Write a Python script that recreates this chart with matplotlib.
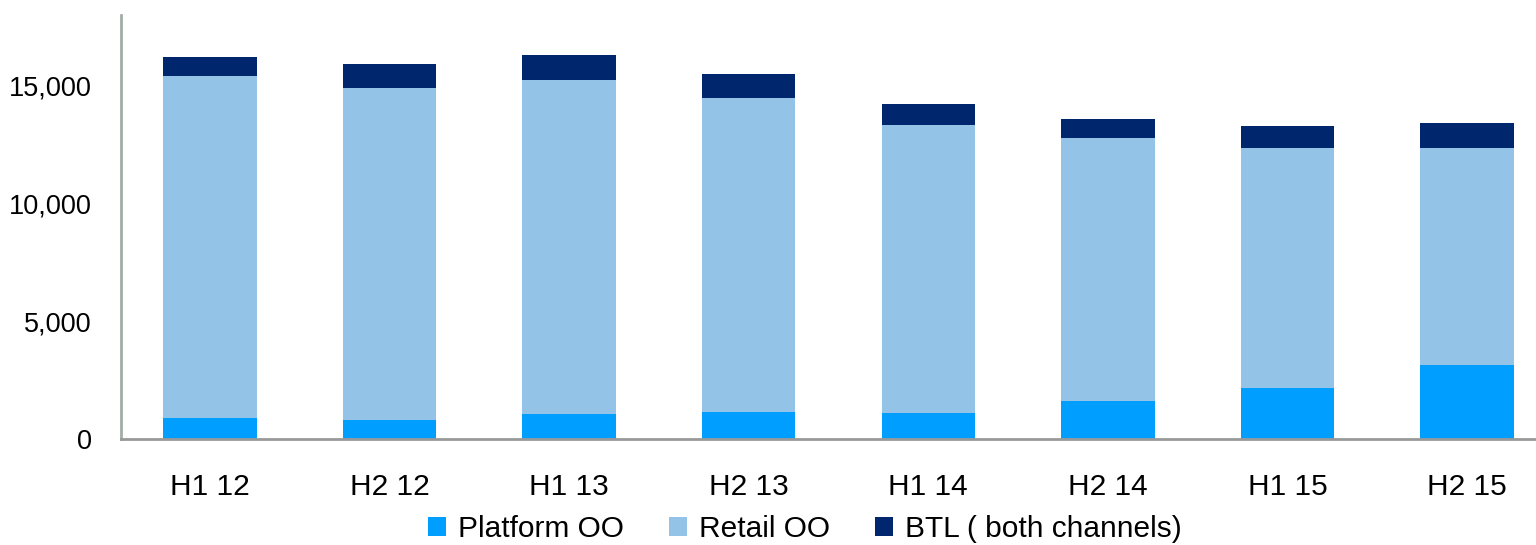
import numpy as np
import matplotlib.pyplot as plt

periods = ["H1 12", "H2 12", "H1 13", "H2 13", "H1 14", "H2 14", "H1 15", "H2 15"]
platform_oo = [890, 780, 1060, 1150, 1090, 1610, 2140, 3140]
retail_oo = [14510, 14115, 14175, 13320, 12250, 11160, 10235, 9220]
btl = [840, 1020, 1090, 1050, 890, 820, 925, 1050]

plt.rcParams['font.family'] = ['Liberation Sans', 'DejaVu Sans']

fig = plt.figure(figsize=(15.36, 5.45), dpi=100)
ax = fig.add_axes([0.0788, 0.195, 0.9212, 0.777])

x = np.arange(len(periods))
w = 0.52
p = np.array(platform_oo)
r = np.array(retail_oo)
b = np.array(btl)

ax.bar(x, p, w, color="#009FFF", label="Platform OO")
ax.bar(x, r, w, bottom=p, color="#93C4E8", label="Retail OO")
ax.bar(x, b, w, bottom=p + r, color="#00266E", label="BTL ( both channels)")

ax.set_ylim(0, 18000)
ax.set_xlim(-0.495, 7.384)
ax.set_yticks([0, 5000, 10000, 15000])
ax.set_yticklabels(["0", "5,000", "10,000", "15,000"])
ax.set_xticks(x)
ax.set_xticklabels(periods)
ax.tick_params(axis='both', length=0)
ax.tick_params(axis='y', pad=21, labelsize=19.5)
ax.tick_params(axis='x', pad=25, labelsize=21.5)

for s in ['top', 'right']:
    ax.spines[s].set_visible(False)
ax.spines['left'].set_color("#A3ADA6")
ax.spines['left'].set_linewidth(2)
ax.spines['bottom'].set_color("#999999")
ax.spines['bottom'].set_linewidth(2)

fig.legend(loc='lower center', bbox_to_anchor=(0.524, -0.045), ncol=3, frameon=False,
           fontsize=21.5, handlelength=0.6, handleheight=0.6, handletextpad=0.4,
           columnspacing=1.5)

fig.savefig("out.png", dpi=100)
